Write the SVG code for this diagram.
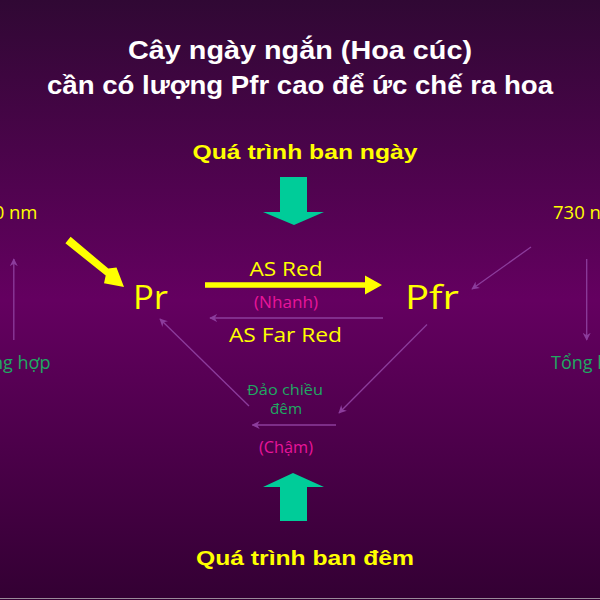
<svg xmlns="http://www.w3.org/2000/svg" width="600" height="600" viewBox="0 0 600 600">
<defs>
<linearGradient id="bg" x1="0" y1="0" x2="0" y2="1">
<stop offset="0" stop-color="#300834"/>
<stop offset="0.5" stop-color="#640060"/>
<stop offset="1" stop-color="#330033"/>
</linearGradient>
<marker id="thin" viewBox="0 0 10 10" refX="9" refY="5" markerWidth="8" markerHeight="8" markerUnits="userSpaceOnUse" orient="auto">
<path d="M0,0 L10,5 L0,10 L3,5 Z" fill="#8c3c9c"/>
</marker>
</defs>
<style>
.title{font-family:"Liberation Sans",Arial,sans-serif;font-weight:bold;fill:#ffffff;font-size:25px;text-anchor:middle}
.proc{font-family:"Liberation Sans",Arial,sans-serif;font-weight:bold;fill:#ffff00;font-size:21px;text-anchor:middle}
.lbl{font-family:"Open Sans","Liberation Sans",sans-serif;fill:#ffff00}
.grn{font-family:"Open Sans","Liberation Sans",sans-serif;fill:#1fa862}
.pink{font-family:"Open Sans","Liberation Sans",sans-serif;fill:#e8159a}
.conn{stroke:#8c3c9c;stroke-width:1.3;fill:none;marker-end:url(#thin)}
.big{fill:#00cc99}
</style>
<rect x="0" y="0" width="600" height="600" fill="url(#bg)"/>
<line x1="0" y1="598.5" x2="600" y2="598.5" stroke="#9a8a9a" stroke-width="1"/>

<g id="title">
<text class="title" x="300" y="59" textLength="344" lengthAdjust="spacingAndGlyphs">Cây ngày ngắn (Hoa cúc)</text>
<text class="title" x="300" y="94" textLength="506" lengthAdjust="spacingAndGlyphs">cần có lượng Pfr cao để ức chế ra hoa</text>
</g>

<g id="day">
<text class="proc" x="305" y="159" textLength="225" lengthAdjust="spacingAndGlyphs">Quá trình ban ngày</text>
<polygon class="big" points="280,177 307,177 307,212 324,212 294,225 263,212 280,212"/>
</g>

<g id="night">
<polygon class="big" points="293,473 324,487 307,487 307,521 280,521 280,487 263,487"/>
<text class="proc" x="305" y="565" textLength="218" lengthAdjust="spacingAndGlyphs">Quá trình ban đêm</text>
</g>

<g id="Pr">
<text class="lbl" x="150.5" y="309" font-size="33" text-anchor="middle" textLength="35" lengthAdjust="spacingAndGlyphs">Pr</text>
</g>
<g id="Pfr">
<text class="lbl" x="432" y="309" font-size="33" text-anchor="middle" textLength="54" lengthAdjust="spacingAndGlyphs">Pfr</text>
</g>

<g id="left">
<text class="lbl" x="37.5" y="219" font-size="18.5" text-anchor="end">660 nm</text>
<text class="grn" x="50.5" y="369" font-size="18" text-anchor="end">Tổng hợp</text>
</g>
<g id="right">
<text class="lbl" x="553" y="219" font-size="18.5">730 nm</text>
<text class="grn" x="551" y="369" font-size="18">Tổng hợp</text>
</g>

<g id="labels">
<text class="lbl" x="286" y="276" font-size="20" text-anchor="middle" textLength="73" lengthAdjust="spacingAndGlyphs">AS Red</text>
<text class="pink" x="286" y="308" font-size="16" text-anchor="middle" textLength="64" lengthAdjust="spacingAndGlyphs">(Nhanh)</text>
<text class="lbl" x="285.5" y="342" font-size="20" text-anchor="middle" textLength="113" lengthAdjust="spacingAndGlyphs">AS Far Red</text>
<text class="grn" x="285" y="395" font-size="15" text-anchor="middle" textLength="76" lengthAdjust="spacingAndGlyphs">Đảo chiều</text>
<text class="grn" x="286" y="414" font-size="15" text-anchor="middle" textLength="32" lengthAdjust="spacingAndGlyphs">đêm</text>
<text class="pink" x="286" y="453" font-size="16" text-anchor="middle" textLength="54" lengthAdjust="spacingAndGlyphs">(Chậm)</text>
</g>

<g id="connectors">
<polygon fill="#ffff00" points="205,282.3 365,282.3 365,275.5 382,285 365,294.5 365,287.7 205,287.7"/>
<polygon fill="#ffff00" points="70.6,236.7 108.3,268.6 116.5,267.5 124,287 104,283.3 105.7,275.5 65.4,243.3"/>
<line class="conn" x1="13.8" y1="340" x2="13.8" y2="259"/>
<line class="conn" x1="586.7" y1="259" x2="586.7" y2="340"/>
<line class="conn" x1="531" y1="247" x2="472" y2="289"/>
<line class="conn" x1="427" y1="324.5" x2="339" y2="413"/>
<line class="conn" x1="249" y1="406" x2="160" y2="319"/>
<line class="conn" x1="383" y1="318" x2="210" y2="318"/>
<line class="conn" x1="336" y1="425" x2="252.5" y2="425"/>
</g>
</svg>
